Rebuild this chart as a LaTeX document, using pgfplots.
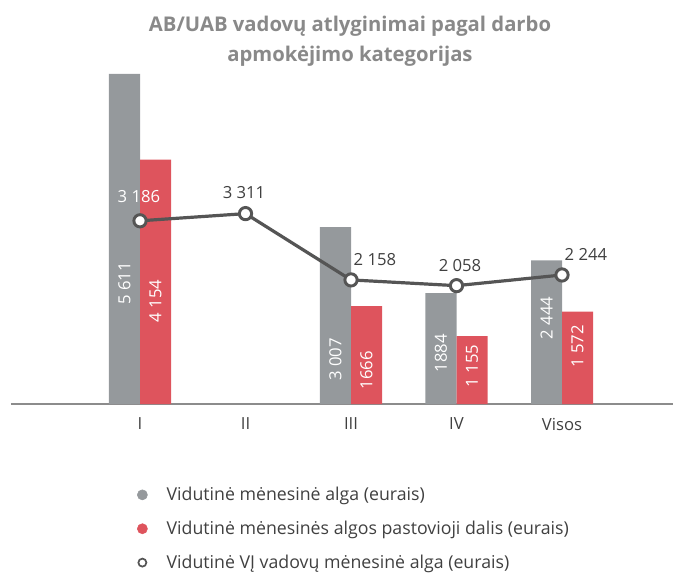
\documentclass[border=0pt]{standalone}
\usepackage{fontspec}
\setmainfont{Open Sans}
\usepackage{pgfplots}
\pgfplotsset{compat=1.18}
\definecolor{barGray}{RGB}{149,153,156}
\definecolor{barRed}{RGB}{222,84,93}
\definecolor{lineGray}{RGB}{85,85,85}
\definecolor{titleGray}{RGB}{137,137,137}
\definecolor{textGray}{RGB}{64,64,64}
\definecolor{axisGray}{RGB}{140,140,140}

% 1 px of the reference = 0.75pt
\pgfplotstableread{
x    y
0    5611
2    3007
3    1884
4    2444
}\algaAll
\pgfplotstableread{
x    y
0    4154
2    1666
3    1155
4    1572
}\algaFix
\pgfplotstableread{
x    y
0    3186
1    3311
2    2158
3    2058
4    2244
}\vjAlga

\begin{document}
\begin{tikzpicture}
\path[use as bounding box] (0,0) rectangle (504.75pt,-430.5pt);

\node[align=center, font=\fontsize{15.2}{22.5}\selectfont\bfseries, text=titleGray]
  at (262.5pt,-31pt) {AB/UAB vadovų atlyginimai pagal darbo\\apmokėjimo kategorijas};

\begin{axis}[
  at={(8.25pt,-303pt)}, anchor=south west,
  scale only axis, width=496.5pt, height=247.5pt,
  xmin=-1.2227, xmax=5.052, ymin=0, ymax=5611,
  clip=false,
  axis x line*=bottom, hide y axis,
  x axis line style={-, draw=axisGray, line width=1.5pt},
  xtick={0,1,2,3,4}, xticklabels={I,II,III,IV,Visos},
  major tick length=0pt,
  xticklabel style={font=\fontsize{12.5}{14}\selectfont, text=textGray, yshift=-7pt},
  ytick=\empty,
  legend style={at={(0.19,-0.243)}, anchor=north west, draw=none, fill=none,
    inner sep=0pt, row sep=9.8pt, font=\fontsize{13.3}{15.5}\selectfont, text=textGray,
    legend cell align=left},
]
  \addlegendimage{legend image code/.code={\fill[barGray] (0,0) circle (3.8pt); \path (16pt,0);}}
  \addlegendentry{Vidutinė mėnesinė alga (eurais)}
  \addlegendimage{legend image code/.code={\fill[barRed] (0,0) circle (3.8pt); \path (16pt,0);}}
  \addlegendentry{Vidutinė mėnesinės algos pastovioji dalis (eurais)}
  \addlegendimage{legend image code/.code={\draw[lineGray, line width=1.3pt] (0,0) circle (3pt); \path (-3.8pt,0) (16pt,0);}}
  \addlegendentry{Vidutinė VĮ vadovų mėnesinė alga (eurais)}

  \addplot[ybar, bar width=0.294, bar shift=-0.147, fill=barGray, draw=none, forget plot]
    table[x=x, y=y] {\algaAll};
  \addplot[ybar, bar width=0.294, bar shift=0.147, fill=barRed, draw=none, forget plot]
    table[x=x, y=y] {\algaFix};

  % value labels inside the bars
  \addplot[draw=none, mark=none, forget plot, nodes near coords, point meta=explicit symbolic,
    every node near coord/.append style={anchor=center, rotate=90, text=white,
      font=\fontsize{12.5}{14}\selectfont}]
    table[meta=lab] {
x       y     lab
-0.147  2049  {5 611}
0.147   1751  {4 154}
1.853   757   {3 007}
2.147   578   {1666}
2.853   867   {1884}
3.147   646   {1 155}
3.853   1462  {2 444}
4.147   978   {1 572}
};
  % labels of the line
  \addplot[draw=none, mark=none, forget plot, nodes near coords, point meta=explicit symbolic,
    every node near coord/.append style={anchor=center, text=textGray,
      font=\fontsize{12.5}{14}\selectfont}]
    table[meta=lab] {
x       y     lab
0.986   3588  {3 311}
2.227   2449  {2 158}
3.033   2347  {2 058}
4.227   2551  {2 244}
};
  \addplot[draw=none, mark=none, forget plot, nodes near coords, point meta=explicit symbolic,
    every node near coord/.append style={anchor=center, text=white,
      font=\fontsize{12.5}{14}\selectfont}]
    table[meta=lab] {
x       y     lab
-0.01   3520  {3 186}
};
\end{axis}

\begin{axis}[
  at={(8.25pt,-303pt)}, anchor=south west,
  scale only axis, width=496.5pt, height=247.5pt,
  xmin=-1.2227, xmax=5.052, ymin=0, ymax=5739,
  hide axis, clip=false,
]
  \addplot[lineGray, line width=2.4pt, mark=*, mark size=4.6pt,
    mark options={fill=white, draw=lineGray, line width=2.2pt}]
    table[x=x, y=y] {\vjAlga};
\end{axis}
\end{tikzpicture}
\end{document}
